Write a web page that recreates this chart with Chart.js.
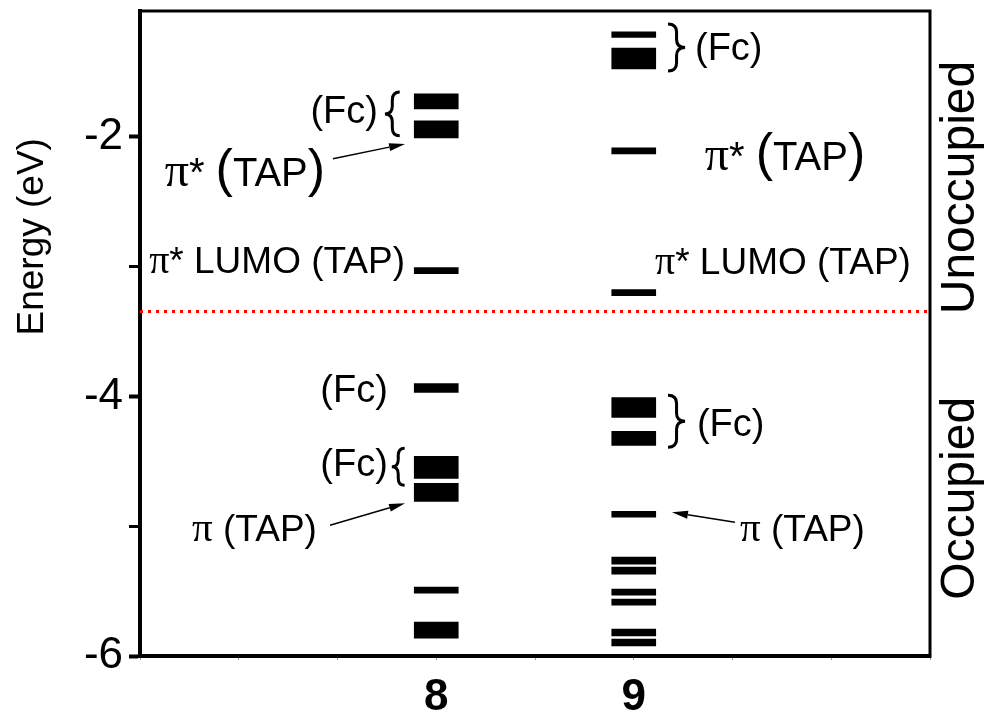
<!DOCTYPE html>
<html>
<head>
<meta charset="utf-8">
<title>Energy levels</title>
<script src="https://cdn.jsdelivr.net/npm/chart.js@4.4.1/dist/chart.umd.min.js"></script>
<style>
  html, body { margin: 0; padding: 0; background: #fff; }
  #wrap { width: 987px; height: 717px; }
</style>
</head>
<body>
<div id="wrap"><canvas id="chart" width="987" height="717"></canvas></div>
<script>
// Compounds and the slots they occupy on the horizontal axis
const compounds = ['8', '9'];
const xTickLabels = ['', '', '', '8', '', '9', '', '', ''];

// Energy axis (eV)
const yMin = -6;
const yMax = -1.03;
const yTickLabels = ['-6', '-4', '-2'];

// Orbital energy levels [lower, upper] in eV
const levels8 = [
  [-1.785, -1.669],
  [-2.008, -1.877],
  [-3.054, -3.008],
  [-3.969, -3.900],
  [-4.631, -4.462],
  [-4.808, -4.669],
  [-5.515, -5.469],
  [-5.862, -5.738]
];
const levels9 = [
  [-1.233, -1.190],
  [-1.477, -1.315],
  [-2.131, -2.085],
  [-3.223, -3.177],
  [-4.162, -4.008],
  [-4.377, -4.269],
  [-4.931, -4.885],
  [-5.292, -5.238],
  [-5.369, -5.315],
  [-5.531, -5.485],
  [-5.608, -5.562],
  [-5.846, -5.792],
  [-5.923, -5.869]
];

// Separation between occupied and unoccupied levels
const fermiLevel = -3.346;

const SANS = '"Liberation Sans", Arial, Helvetica, sans-serif';
const SERIF = '"Liberation Serif", "Times New Roman", serif';

const slot = name => xTickLabels.indexOf(name);
const barPoints = [
  ...levels8.map(r => ({ x: slot(compounds[0]), y: r })),
  ...levels9.map(r => ({ x: slot(compounds[1]), y: r }))
];

// Text notes: anchor (x slot, energy baseline), alignment, and runs [text, size, family]
const piStarTap = [['\u03c0', 48, SERIF], ['*', 40], [' ', 40], ['(', 52], ['TAP', 40], [')', 52]];
const piStarLumo = [['\u03c0', 40, SERIF], ['* LUMO (TAP)', 37]];
const piTap = [['\u03c0', 41, SERIF], [' (TAP)', 37]];
const fc = [['(Fc)', 38]];

const notes = [
  { x: 2.41, y: -1.892, align: 'right', runs: fc },
  { x: 0.25, y: -2.375, align: 'left', runs: piStarTap },
  { x: 2.684, y: -3.045, align: 'right', runs: piStarLumo },
  { x: 2.51, y: -4.04, align: 'right', runs: fc },
  { x: 2.51, y: -4.615, align: 'right', runs: fc },
  { x: 0.527, y: -5.115, align: 'left', runs: piTap },
  { x: 5.62, y: -1.408, align: 'left', runs: fc },
  { x: 5.72, y: -2.254, align: 'left', runs: piStarTap },
  { x: 5.215, y: -3.054, align: 'left', runs: piStarLumo },
  { x: 5.64, y: -4.308, align: 'left', runs: fc },
  { x: 6.076, y: -5.115, align: 'left', runs: piTap }
];

// Curly braces: flat edge x, tip x, energy span
const braces = [
  { flat: 2.63, tip: 2.48, top: -1.654, bottom: -1.992 },
  { flat: 2.68, tip: 2.55, top: -4.40, bottom: -4.685 },
  { flat: 5.347, tip: 5.52, top: -1.131, bottom: -1.492 },
  { flat: 5.347, tip: 5.52, top: -3.99, bottom: -4.392 }
];

// Pointer arrows: from (x1, y1) to head at (x2, y2)
const arrows = [
  { x1: 1.954, y1: -2.169, x2: 2.684, y2: -2.054 },
  { x1: 1.924, y1: -4.992, x2: 2.684, y2: -4.823 },
  { x1: 6.025, y1: -4.969, x2: 5.387, y2: -4.892 }
];

function drawRuns(ctx, runs, px, py, align) {
  let total = 0;
  const items = runs.map(([t, size, fam]) => {
    ctx.font = `${size}px ${fam || SANS}`;
    const w = ctx.measureText(t).width;
    total += w;
    return { t, font: ctx.font, w };
  });
  let cx = align === 'right' ? px - total : (align === 'center' ? px - total / 2 : px);
  ctx.textAlign = 'left';
  ctx.textBaseline = 'alphabetic';
  items.forEach(it => { ctx.font = it.font; ctx.fillText(it.t, cx, py); cx += it.w; });
}

function drawBrace(ctx, xf, xt, yt, yb) {
  const xm = (xf + xt) / 2;
  const ym = (yt + yb) / 2;
  const r = Math.min(8, (yb - yt) / 5);
  ctx.beginPath();
  ctx.moveTo(xf, yt);
  ctx.quadraticCurveTo(xm, yt, xm, yt + r);
  ctx.lineTo(xm, ym - r);
  ctx.quadraticCurveTo(xm, ym, xt, ym);
  ctx.quadraticCurveTo(xm, ym, xm, ym + r);
  ctx.lineTo(xm, yb - r);
  ctx.quadraticCurveTo(xm, yb, xf, yb);
  ctx.stroke();
}

function drawArrow(ctx, x1, y1, x2, y2) {
  const a = Math.atan2(y2 - y1, x2 - x1);
  const L = 16, W = 4;
  const bx = x2 - L * Math.cos(a), by = y2 - L * Math.sin(a);
  ctx.lineWidth = 1.5;
  ctx.beginPath(); ctx.moveTo(x1, y1); ctx.lineTo(bx, by); ctx.stroke();
  ctx.beginPath();
  ctx.moveTo(x2, y2);
  ctx.lineTo(bx + W * Math.sin(a), by - W * Math.cos(a));
  ctx.lineTo(bx - W * Math.sin(a), by + W * Math.cos(a));
  ctx.closePath();
  ctx.fill();
}

const annotations = {
  id: 'annotations',
  afterDraw(chart) {
    const { ctx, chartArea: ca, scales: { x, y } } = chart;
    const X = v => x.getPixelForValue(v);
    const Y = v => y.getPixelForValue(v);
    ctx.save();
    ctx.fillStyle = '#000';
    ctx.strokeStyle = '#000';

    // frame: top and right edges
    ctx.lineWidth = 3;
    ctx.beginPath();
    ctx.moveTo(ca.left - 2, ca.top);
    ctx.lineTo(ca.right, ca.top);
    ctx.lineTo(ca.right, ca.bottom + 2);
    ctx.stroke();

    notes.forEach(n => drawRuns(ctx, n.runs, X(n.x), Y(n.y), n.align));

    ctx.lineWidth = 3;
    braces.forEach(b => drawBrace(ctx, X(b.flat), X(b.tip), Y(b.top), Y(b.bottom)));

    arrows.forEach(a => drawArrow(ctx, X(a.x1), Y(a.y1), X(a.x2), Y(a.y2)));

    // axis title and region labels
    ctx.textAlign = 'center';
    ctx.textBaseline = 'middle';
    ctx.font = `37px ${SANS}`;
    ctx.save();
    ctx.translate(ca.left - 107, Y(-2.77));
    ctx.rotate(-Math.PI / 2);
    ctx.fillText('Energy (eV)', 0, 0);
    ctx.restore();

    ctx.font = `48px ${SANS}`;
    [['Unoccupied', -2.39], ['Occupied', -4.785]].forEach(([t, e]) => {
      ctx.save();
      ctx.translate(ca.right + 31, Y(e));
      ctx.rotate(-Math.PI / 2);
      ctx.fillText(t, 0, 0);
      ctx.restore();
    });
    ctx.restore();
  }
};

new Chart(document.getElementById('chart'), {
  type: 'bar',
  data: {
    datasets: [
      {
        type: 'bar',
        data: barPoints,
        backgroundColor: '#000',
        borderWidth: 0,
        barThickness: 44
      },
      {
        type: 'line',
        data: [{ x: 0, y: fermiLevel }, { x: xTickLabels.length - 1, y: fermiLevel }],
        borderColor: '#ff0000',
        borderWidth: 3,
        borderDash: [3, 5],
        borderCapStyle: 'butt',
        pointRadius: 0,
        fill: false
      }
    ]
  },
  options: {
    responsive: false,
    animation: false,
    layout: { padding: { top: 11, right: 57, left: 0, bottom: 0 } },
    plugins: { legend: { display: false }, tooltip: { enabled: false } },
    scales: {
      x: {
        type: 'linear',
        min: 0,
        max: xTickLabels.length - 1,
        offset: false,
        border: { display: true, color: '#000', width: 4 },
        grid: { display: true, offset: false, drawOnChartArea: false, drawTicks: true, tickLength: 4, tickColor: '#999', tickWidth: 1 },
        ticks: {
          stepSize: 1,
          autoSkip: false,
          maxRotation: 0,
          padding: 11,
          color: '#000',
          font: { family: SANS, size: 44, weight: 'bold' },
          callback: v => xTickLabels[v] || ''
        },
        afterFit: s => { s.height = 61; s.paddingLeft = 0; s.paddingRight = 0; }
      },
      y: {
        type: 'linear',
        min: yMin,
        max: yMax,
        border: { display: true, color: '#000', width: 4 },
        grid: {
          display: true,
          drawOnChartArea: false,
          drawTicks: true,
          tickLength: 11,
          tickColor: '#000',
          tickWidth: c => (yTickLabels.includes(String(c.tick && c.tick.value)) ? 4 : 3)
        },
        ticks: {
          stepSize: 1,
          padding: 6,
          color: '#000',
          font: { family: SANS, size: 44 },
          callback: v => (yTickLabels.includes(String(v)) ? String(v) : '')
        },
        afterBuildTicks: s => { s.ticks = s.ticks.filter(t => Number.isInteger(t.value)); },
        afterFit: s => { s.width = 140; s.paddingTop = 0; s.paddingBottom = 0; }
      }
    }
  },
  plugins: [annotations]
});
</script>
</body>
</html>
